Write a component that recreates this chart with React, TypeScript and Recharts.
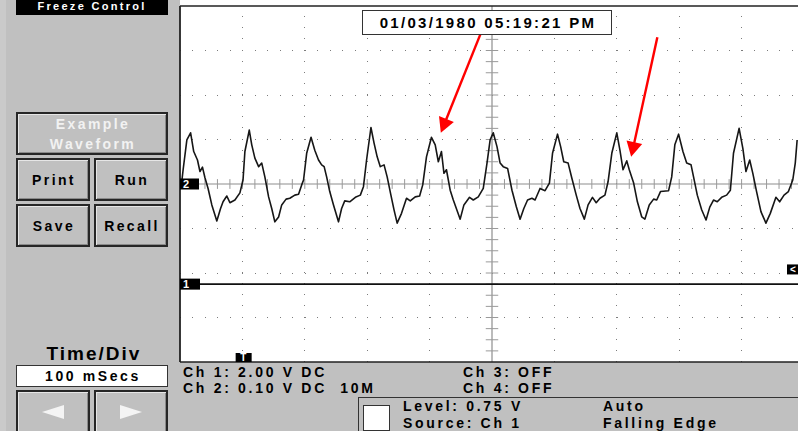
import React from "react";
import { LineChart, Line, XAxis, YAxis, ReferenceLine, ReferenceDot } from "recharts";

// channel 2 trace (time in ms, value in mV)
const ch2TimeMs = [
  2, 5, 11, 17, 22, 28, 32, 36, 40, 45, 51, 59, 65, 69, 75, 80, 88, 96, 101, 104,
  111, 115, 120, 126, 131, 136, 142, 147, 152, 158, 163, 170, 176, 184, 190, 195, 198, 203, 210, 216,
  222, 227, 231, 235, 240, 246, 254, 259, 264, 272, 281, 289, 294, 299, 306, 311, 316, 321, 327, 332,
  338, 343, 348, 355, 363, 369, 377, 384, 389, 395, 403, 409, 414, 419, 423, 427, 433, 438, 449, 455,
  464, 470, 478, 486, 492, 497, 502, 508, 513, 518, 525, 532, 539, 545, 551, 557, 564, 569, 577, 585,
  592, 597, 605, 610, 615, 622, 628, 635, 641, 648, 654, 661, 667, 673, 681, 686, 692, 700, 705, 710,
  716, 720, 727, 733, 740, 745, 752, 759, 764, 770, 783, 788, 793, 799, 806, 812, 819, 823, 829, 836,
  843, 849, 855, 861, 868, 876, 882, 887, 896, 902, 907, 913, 918, 924, 931, 939, 946, 955, 961, 968,
  975, 982, 986, 989,
];
const ch2Millivolts = [
  -5, 32, 99, 115, 73, 54, 28, 38, 14, -10, -47, -83, -55, -40, -27, -42, -36, -20, 9, 73,
  121, 88, 58, 39, 47, 16, -29, -55, -85, -74, -47, -34, -32, -25, -23, -2, 9, 69, 105, 76,
  54, 43, 39, 16, -17, -47, -85, -55, -38, -40, -30, -25, -6, 54, 127, 92, 61, 39, 43, 16,
  -25, -58, -88, -66, -32, -38, -29, -27, -2, 61, 105, 88, 50, 73, 24, 32, -14, -36, -79, -47,
  -30, -36, -29, -10, 47, 99, 115, 84, 47, 39, 35, -14, -51, -79, -55, -36, -32, -36, -10, -15,
  2, 69, 112, 84, 50, 47, 13, -25, -55, -79, -47, -30, -42, -32, -25, 5, 69, 115, 76, 32,
  52, 32, 2, -40, -74, -79, -47, -34, -36, -17, -15, 16, 88, 112, 73, 47, 43, 16, -25, -58,
  -81, -52, -36, -40, -30, -25, -14, 69, 125, 80, 28, 54, 24, -17, -62, -88, -66, -30, -40, -25,
  -17, 9, 47, 99,
];

// channel 1 is flat at 0 V
const ch1TimeMs = [0, 1000];
const ch1Volts = [0, 0];

// red annotation arrows (start -> tip)
const arrowFromMs = [495, 765];
const arrowFromMv = [384, 330];
const arrowToMs = [418, 723];
const arrowToMv = [115, 61];

const MS_PER_DIV = 100;
const CH2_MV_PER_DIV = 100;
const CH1_V_PER_DIV = 2;
const CH1_OFFSET_DIV = -2.25;
const TRIGGER_MS = 102;
const TRIGGER_LEVEL_V = 0.75;

const timeDomain = [0, 10 * MS_PER_DIV];
const ch2Domain = [-4 * CH2_MV_PER_DIV, 4 * CH2_MV_PER_DIV];
const ch1Domain = [(-4 - CH1_OFFSET_DIV) * CH1_V_PER_DIV, (4 - CH1_OFFSET_DIV) * CH1_V_PER_DIV];

const timeMinorTicks = Array.from({ length: 51 }, (_, i) => i * (MS_PER_DIV / 5));
const voltMinorTicks = Array.from({ length: 33 }, (_, i) => ch2Domain[0] + i * (CH2_MV_PER_DIV / 4));
const timeMajor = [100, 200, 300, 400, 600, 700, 800, 900];
const voltMajor = [-300, -200, -100, 100, 200, 300];

const ch2Data = ch2TimeMs.map((t, i) => ({ t, v: ch2Millivolts[i] }));
const ch1Data = ch1TimeMs.map((t, i) => ({ t, v: ch1Volts[i] }));

const PANEL = "#c0c0c0";
const FONT = '"Liberation Sans", Arial, Helvetica, sans-serif';
const GRID = "#7c7c7c";

const RedArrow = (p: any) => {
  const { x1, y1, x2, y2 } = p;
  const dx = x2 - x1;
  const dy = y2 - y1;
  const len = Math.hypot(dx, dy) || 1;
  const ux = dx / len;
  const uy = dy / len;
  const bx = x2 - ux * 15;
  const by = y2 - uy * 15;
  const px = -uy * 8;
  const py = ux * 8;
  return (
    <g>
      <line x1={x1} y1={y1} x2={bx + ux * 2} y2={by + uy * 2} stroke="#ff0000" strokeWidth={2.4} />
      <polygon points={`${x2},${y2} ${bx + px},${by + py} ${bx - px},${by - py}`} fill="#ff0000" />
    </g>
  );
};

const marker = (label: string, dx: number, w: number, h: number) => (p: any) => {
  const { cx, cy } = p;
  return (
    <g>
      <rect x={cx + dx} y={cy - h / 2} width={w} height={h} fill="#000" />
      <text
        x={cx + dx + 3}
        y={cy + 4}
        fill="#fff"
        fontFamily={FONT}
        fontWeight={700}
        fontSize={11}
      >
        {label}
      </text>
    </g>
  );
};

function Txt({ x, y, children, size = 14, spacing = 2.7, color = "#000" }: any) {
  return (
    <div
      style={{
        position: "absolute",
        left: x,
        top: y,
        fontFamily: FONT,
        fontWeight: 700,
        fontSize: size,
        letterSpacing: spacing,
        color,
        whiteSpace: "pre",
        lineHeight: 1,
      }}
    >
      {children}
    </div>
  );
}

function Btn({ x, y, w, h, children, color = "#000" }: any) {
  return (
    <div
      style={{
        position: "absolute",
        left: x,
        top: y,
        width: w,
        height: h,
        boxSizing: "border-box",
        background: PANEL,
        border: "2px solid #262626",
        boxShadow: "inset 1px 1px 0 #e6e6e6, inset -1px -1px 0 #8a8a8a",
        display: "flex",
        flexDirection: "column",
        alignItems: "center",
        justifyContent: "center",
        fontFamily: FONT,
        fontWeight: 700,
        fontSize: 14,
        letterSpacing: 2.4,
        paddingLeft: 2,
        color,
        lineHeight: "20px",
        textAlign: "center",
      }}
    >
      {children}
    </div>
  );
}

export default function App() {
  return (
    <div
      style={{
        position: "relative",
        width: 798,
        height: 431,
        overflow: "hidden",
        background: PANEL,
      }}
    >
      <style>{`body{margin:0}`}</style>
      <div style={{ position: "absolute", left: 0, top: 0, width: 6, height: 431, background: "#cacaca" }} />
      <div style={{ position: "absolute", left: 180, top: 0, width: 618, height: 362, background: "#fff" }} />

      <div style={{ position: "absolute", left: 170, top: -4 }}>
        <LineChart width={644} height={376} margin={{ top: 10, right: 10, bottom: 10, left: 10 }}>
          <XAxis
            xAxisId="b"
            type="number"
            dataKey="t"
            domain={timeDomain}
            ticks={timeMinorTicks}
            allowDataOverflow
            mirror
            height={1}
            tick={false}
            tickSize={4}
            axisLine={{ stroke: "#222", strokeWidth: 1.5 }}
            tickLine={{ stroke: "#666" }}
          />
          <XAxis
            xAxisId="top"
            orientation="top"
            type="number"
            dataKey="t"
            domain={timeDomain}
            ticks={timeMinorTicks}
            allowDataOverflow
            mirror
            height={1}
            tick={false}
            tickSize={4}
            axisLine={{ stroke: "#222", strokeWidth: 1.5 }}
            tickLine={{ stroke: "#666" }}
          />
          <YAxis
            yAxisId="ch2"
            type="number"
            domain={ch2Domain}
            ticks={voltMinorTicks}
            allowDataOverflow
            mirror
            width={1}
            tick={false}
            tickSize={5}
            axisLine={{ stroke: "#222", strokeWidth: 1.8 }}
            tickLine={{ stroke: "#666" }}
          />
          <YAxis yAxisId="ch1" type="number" domain={ch1Domain} allowDataOverflow hide />

          {voltMajor.map((v) => (
            <ReferenceLine
              key={`h${v}`}
              xAxisId="b"
              yAxisId="ch2"
              y={v}
              stroke={GRID}
              strokeDasharray="1 11.48"
              shapeRendering="crispEdges"
            />
          ))}
          {timeMajor.map((t) => (
            <ReferenceLine
              key={`v${t}`}
              xAxisId="b"
              yAxisId="ch2"
              x={t}
              stroke={GRID}
              strokeDasharray="1 10.125"
              shapeRendering="crispEdges"
            />
          ))}
          <ReferenceLine xAxisId="b" yAxisId="ch2" y={0} stroke="#8e8e8e" strokeWidth={1.2} />
          <ReferenceLine xAxisId="b" yAxisId="ch2" x={500} stroke="#8e8e8e" strokeWidth={1.2} />
          {timeMinorTicks.slice(1, -1).map((t) => (
            <ReferenceLine
              key={`ct${t}`}
              xAxisId="b"
              yAxisId="ch2"
              segment={[{ x: t, y: -11 }, { x: t, y: 11 }]}
              stroke="#9a9a9a"
            />
          ))}
          {voltMinorTicks.slice(1, -1).map((v) => (
            <ReferenceLine
              key={`cv${v}`}
              xAxisId="b"
              yAxisId="ch2"
              segment={[{ x: 490, y: v }, { x: 510, y: v }]}
              stroke="#9a9a9a"
            />
          ))}

          <Line
            data={ch1Data}
            xAxisId="b"
            yAxisId="ch1"
            dataKey="v"
            stroke="#111"
            strokeWidth={1.6}
            dot={false}
            isAnimationActive={false}
          />
          <Line
            data={ch2Data}
            xAxisId="b"
            yAxisId="ch2"
            dataKey="v"
            type="linear"
            stroke="#161616"
            strokeWidth={1.6}
            strokeLinejoin="round"
            dot={false}
            isAnimationActive={false}
          />

          {arrowFromMs.map((t, i) => (
            <ReferenceLine
              key={`a${i}`}
              xAxisId="b"
              yAxisId="ch2"
              segment={[
                { x: t, y: arrowFromMv[i] },
                { x: arrowToMs[i], y: arrowToMv[i] },
              ]}
              shape={RedArrow}
            />
          ))}

          <ReferenceDot xAxisId="b" yAxisId="ch2" x={0} y={0} r={1} shape={marker("2", 0, 19, 11)} />
          <ReferenceDot xAxisId="b" yAxisId="ch1" x={0} y={0} r={1} shape={marker("1", 0, 20, 11)} />
          <ReferenceDot
            xAxisId="b"
            yAxisId="ch2"
            x={TRIGGER_MS}
            y={ch2Domain[0]}
            r={1}
            shape={(p: any) => (
              <g>
                <rect x={p.cx - 8} y={p.cy - 9} width={16} height={9} fill="#000" />
                <text x={p.cx - 3.5} y={p.cy - 1} fill="#fff" fontFamily={FONT} fontWeight={700} fontSize={10}>
                  T
                </text>
              </g>
            )}
          />
          <ReferenceDot
            xAxisId="b"
            yAxisId="ch1"
            x={timeDomain[1]}
            y={TRIGGER_LEVEL_V}
            r={1}
            shape={(p: any) => (
              <g>
                <rect x={p.cx - 17} y={p.cy - 3} width={19} height={10} fill="#000" />
                <text x={p.cx - 14} y={p.cy + 6} fill="#fff" fontFamily={FONT} fontWeight={700} fontSize={10}>
                  {"<"}
                </text>
              </g>
            )}
          />
        </LineChart>
      </div>

      {/* date stamp */}
      <div
        style={{
          position: "absolute",
          left: 362,
          top: 10,
          width: 250,
          height: 25,
          boxSizing: "border-box",
          background: "#fff",
          border: "1.5px solid #333",
          display: "flex",
          alignItems: "center",
          justifyContent: "center",
          fontFamily: FONT,
          fontWeight: 700,
          fontSize: 15,
          letterSpacing: 2.3,
          paddingLeft: 2,
        }}
      >
        01/03/1980 05:19:21 PM
      </div>

      {/* left panel */}
      <div
        style={{
          position: "absolute",
          left: 16,
          top: 0,
          width: 152,
          height: 15,
          background: "#000",
          color: "#fff",
          fontFamily: FONT,
          fontWeight: 700,
          fontSize: 11,
          letterSpacing: 2.3,
          textAlign: "center",
          lineHeight: "13px",
        }}
      >
        Freeze Control
      </div>
      <Btn x={16} y={112} w={152} h={43} color="#f2f2f2">
        <span>Example</span>
        <span>Waveform</span>
      </Btn>
      <Btn x={16} y={158} w={74} h={43}>Print</Btn>
      <Btn x={94} y={158} w={74} h={43}>Run</Btn>
      <Btn x={16} y={204} w={74} h={43}>Save</Btn>
      <Btn x={94} y={204} w={74} h={43}>Recall</Btn>

      <div
        style={{
          position: "absolute",
          left: 18,
          top: 343,
          width: 152,
          textAlign: "center",
          fontFamily: FONT,
          fontWeight: 700,
          fontSize: 19,
          letterSpacing: 2,
          lineHeight: "21px",
        }}
      >
        Time/Div
      </div>
      <div
        style={{
          position: "absolute",
          left: 16,
          top: 365,
          width: 152,
          height: 22,
          boxSizing: "border-box",
          background: "#fff",
          border: "1px solid #333",
          textAlign: "center",
          fontFamily: FONT,
          fontWeight: 700,
          fontSize: 14,
          letterSpacing: 2.6,
          lineHeight: "20px",
          paddingLeft: 2,
        }}
      >
        100 mSecs
      </div>
      <Btn x={16} y={390} w={74} h={46}>
        <svg width={24} height={16}>
          <polygon points="0,7 22,0 22,14" fill="#f4f4f4" />
        </svg>
      </Btn>
      <Btn x={94} y={390} w={74} h={46}>
        <svg width={24} height={16}>
          <polygon points="22,7 0,0 0,14" fill="#f4f4f4" />
        </svg>
      </Btn>

      {/* bottom panel */}
      <Txt x={183} y={365}>Ch 1: 2.00 V DC</Txt>
      <Txt x={183} y={381}>{"Ch 2: 0.10 V DC  10M"}</Txt>
      <Txt x={463} y={365}>Ch 3: OFF</Txt>
      <Txt x={463} y={381}>Ch 4: OFF</Txt>

      <div
        style={{
          position: "absolute",
          left: 358,
          top: 397,
          width: 460,
          height: 60,
          borderTop: "1.5px solid #333",
          borderLeft: "1.5px solid #333",
        }}
      />
      <div
        style={{
          position: "absolute",
          left: 363,
          top: 405,
          width: 27,
          height: 26,
          boxSizing: "border-box",
          background: "#fff",
          border: "1.5px solid #333",
        }}
      />
      <Txt x={403} y={399}>Level: 0.75 V</Txt>
      <Txt x={403} y={416}>Source: Ch 1</Txt>
      <Txt x={603} y={399}>Auto</Txt>
      <Txt x={603} y={416}>Falling Edge</Txt>
    </div>
  );
}
